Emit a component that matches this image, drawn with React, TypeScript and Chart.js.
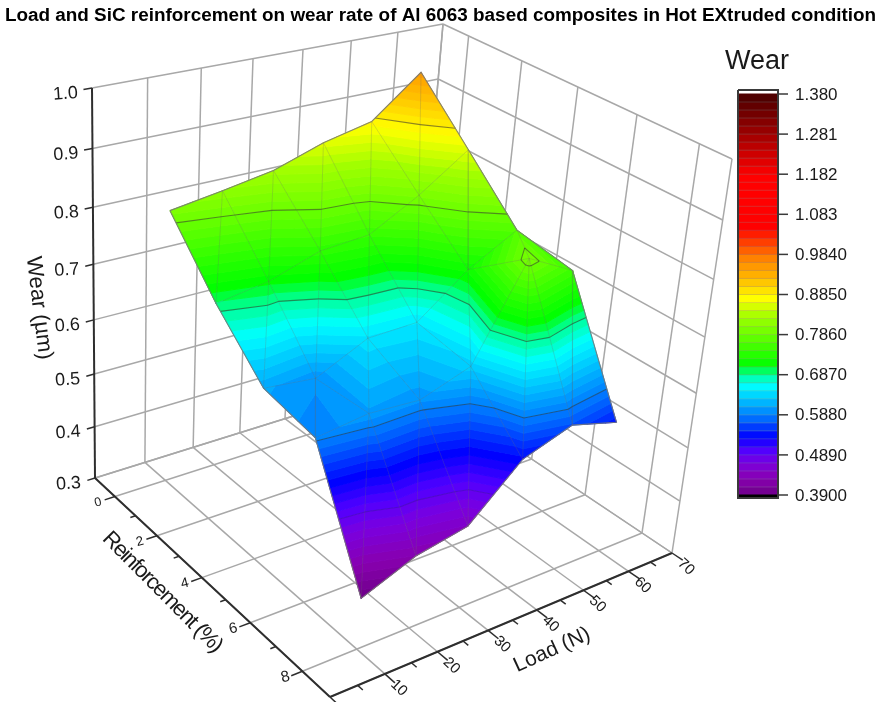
import React, { useEffect, useRef } from "react";
import { Chart, registerables } from "chart.js";

Chart.register(...registerables);

const chartTitle = "Load and SiC reinforcement on wear rate of Al 6063 based composites in Hot EXtruded condition";
const loads = [10, 20, 30, 40, 50, 60];
const reinforcements = [0, 2, 4, 6, 8];
const wearR0 = [0.8, 0.814, 0.83, 0.86, 0.88, 0.951];
const wearR2 = [0.695, 0.71, 0.741, 0.748, 0.798, 0.86];
const wearR4 = [0.61, 0.6, 0.645, 0.648, 0.719, 0.768];
const wearR6 = [0.592, 0.605, 0.6, 0.632, 0.796, 0.752];
const wearR8 = [0.39, 0.429, 0.448, 0.535, 0.566, 0.542];
const wearRows = [wearR0, wearR2, wearR4, wearR6, wearR8];

const wearTicks = [0.3, 0.4, 0.5, 0.6, 0.7, 0.8, 0.9, 1.0];
const wearTickLabels = ["0.3", "0.4", "0.5", "0.6", "0.7", "0.8", "0.9", "1.0"];
const loadTicks = [0, 10, 20, 30, 40, 50, 60, 70];
const loadMinor = [5, 15, 25, 35, 45, 55, 65];
const reinfTicks = [0, 2, 4, 6, 8];
const reinfMinor = [1, 3, 5, 7];
const legendTicks = [0.39, 0.489, 0.588, 0.687, 0.786, 0.885, 0.984, 1.083, 1.182, 1.281, 1.38];
const legendLabels = ["0.3900", "0.4890", "0.5880", "0.6870", "0.7860", "0.8850", "0.9840", "1.083", "1.182", "1.281", "1.380"];
const contourLevels = [0.489, 0.588, 0.687, 0.786, 0.885];
const colorStops: [number, number[]][] = [
  [0.39, [110, 0, 136]], [0.43, [136, 0, 176]], [0.47, [122, 0, 224]], [0.5, [80, 0, 255]],
  [0.533, [0, 0, 255]], [0.58, [0, 112, 255]], [0.62, [0, 184, 255]], [0.66, [0, 255, 255]],
  [0.69, [0, 255, 144]], [0.71, [0, 255, 0]], [0.79, [112, 255, 0]], [0.83, [160, 255, 0]],
  [0.875, [255, 255, 0]], [0.92, [255, 192, 0]], [0.976, [255, 128, 0]], [1.05, [255, 0, 0]],
  [1.18, [255, 0, 0]], [1.28, [160, 0, 0]], [1.37, [80, 0, 0]],
];

const LOAD_MIN = 0, LOAD_MAX = 70, REINF_MIN = -1, REINF_MAX = 9, WEAR_MIN = 0.3, WEAR_MAX = 1.0;
const BAND = 0.0198, BAND_START = 0.39, BAND_COUNT = 50;
const SURFACE_BAND = 0.0099, SURFACE_BAND_COUNT = 62;
const W = 881, H = 702, TOP = 26.68;
const FONT = '"Liberation Sans", Arial, sans-serif';

// camera: projective map of the plot box (floor and roof quads, in scene units)
type Pt = { x: number; y: number };
function squareToQuad(q: number[][]) {
  const [[x0, y0], [x1, y1], [x2, y2], [x3, y3]] = q;
  const dx1 = x1 - x2, dx2 = x3 - x2, sx = x0 - x1 + x2 - x3;
  const dy1 = y1 - y2, dy2 = y3 - y2, sy = y0 - y1 + y2 - y3;
  const den = dx1 * dy2 - dx2 * dy1;
  const g = (sx * dy2 - dx2 * sy) / den, h = (dx1 * sy - sx * dy1) / den;
  return { a: x1 - x0 + g * x1, b: x3 - x0 + h * x3, c: x0, d: y1 - y0 + g * y1, e: y3 - y0 + h * y3, f: y0, g, h };
}
const floorH = squareToQuad([[95, 478], [412, 379], [672, 553], [330, 697]]);
const roofH = squareToQuad([[92, 88], [443, 24], [732, 159], [367, 254]]);
const VERT_PERSP = 1.1;
function applyH(m: any, u: number, v: number) {
  const k = m.g * u + m.h * v + 1;
  return [(m.a * u + m.b * v + m.c) / k, (m.d * u + m.e * v + m.f) / k];
}
function project(load: number, reinf: number, wear: number): Pt {
  const u = (load - LOAD_MIN) / (LOAD_MAX - LOAD_MIN);
  const v = (reinf - REINF_MIN) / (REINF_MAX - REINF_MIN);
  const w = (wear - WEAR_MIN) / (WEAR_MAX - WEAR_MIN);
  const t = w / (w + (1 - w) * VERT_PERSP);
  const f = applyH(floorH, u, v), r = applyH(roofH, u, v);
  return { x: f[0] + (r[0] - f[0]) * t, y: f[1] + (r[1] - f[1]) * t };
}

function colorFor(val: number) {
  if (val <= colorStops[0][0]) return `rgb(${colorStops[0][1].join(",")})`;
  for (let i = 1; i < colorStops.length; i++) {
    if (val <= colorStops[i][0]) {
      const [a, ca] = colorStops[i - 1], [b, cb] = colorStops[i];
      const t = (val - a) / (b - a);
      return `rgb(${ca.map((c, k) => Math.round(c + (cb[k] - c) * t)).join(",")})`;
    }
  }
  return `rgb(${colorStops[colorStops.length - 1][1].join(",")})`;
}

type V3 = [number, number, number];
function clipAbove(poly: V3[], level: number, keepAbove: boolean): V3[] {
  const out: V3[] = [];
  const inside = (p: V3) => (keepAbove ? p[2] >= level : p[2] <= level);
  for (let i = 0; i < poly.length; i++) {
    const a = poly[i], b = poly[(i + 1) % poly.length];
    if (inside(a)) out.push(a);
    if (inside(a) !== inside(b)) {
      const t = (level - a[2]) / (b[2] - a[2]);
      out.push([a[0] + (b[0] - a[0]) * t, a[1] + (b[1] - a[1]) * t, level]);
    }
  }
  return out;
}

const toScene = (p: V3) => project(p[0], p[1], p[2]);

function buildDatasets() {
  const ds: any[] = []; // in paint order; reversed at the end
  const line = (data: Pt[], color: string, width: number) =>
    ds.push({ data, showLine: true, fill: false, borderColor: color, borderWidth: width, pointRadius: 0, clip: false, tension: 0 });
  const poly = (data: Pt[], color: string) =>
    ds.push({ data: [...data, data[0]], showLine: true, fill: "shape", backgroundColor: color, borderColor: color, borderWidth: 1, pointRadius: 0, clip: false, tension: 0 });

  const GRID = "#a8a8a8";
  const gridW = 1.5;
  const wallLoads = [10, 20, 30, 40, 50, 60, 70];
  const wallReinfs = [REINF_MIN, 0, 2, 4, 6, 8, REINF_MAX];
  // floor
  for (const l of loadTicks) line([project(l, REINF_MIN, WEAR_MIN), project(l, REINF_MAX, WEAR_MIN)], GRID, gridW);
  for (const r of wallReinfs) line([project(LOAD_MIN, r, WEAR_MIN), project(LOAD_MAX, r, WEAR_MIN)], GRID, gridW);
  // back walls
  for (const l of wallLoads) line([project(l, REINF_MIN, WEAR_MIN), project(l, REINF_MIN, WEAR_MAX)], GRID, gridW);
  for (const r of wallReinfs) line([project(LOAD_MAX, r, WEAR_MIN), project(LOAD_MAX, r, WEAR_MAX)], GRID, gridW);
  for (const w of wearTicks) {
    line([project(LOAD_MIN, REINF_MIN, w), project(LOAD_MAX, REINF_MIN, w)], GRID, gridW);
    line([project(LOAD_MAX, REINF_MIN, w), project(LOAD_MAX, REINF_MAX, w)], GRID, gridW);
  }

  // axes
  const AXIS = "#2e2e2e";
  line([project(LOAD_MIN, REINF_MIN, WEAR_MIN), project(LOAD_MIN, REINF_MIN, WEAR_MAX)], AXIS, 2);
  line([project(LOAD_MIN, REINF_MIN, WEAR_MIN), project(LOAD_MIN, REINF_MAX, WEAR_MIN)], AXIS, 2);
  line([project(LOAD_MIN, REINF_MAX, WEAR_MIN), project(LOAD_MAX, REINF_MAX, WEAR_MIN)], AXIS, 2);
  for (const w of wearTicks) line([project(LOAD_MIN, REINF_MIN, w), project(LOAD_MIN - 1.5, REINF_MIN, w)], AXIS, 1.5);
  for (const r of reinfTicks) line([project(LOAD_MIN, r, WEAR_MIN), project(LOAD_MIN - 2, r, WEAR_MIN)], AXIS, 1.5);
  for (const r of reinfMinor) line([project(LOAD_MIN, r, WEAR_MIN), project(LOAD_MIN - 1, r, WEAR_MIN)], AXIS, 1.5);
  for (const l of loadTicks) line([project(l, REINF_MAX, WEAR_MIN), project(l, REINF_MAX + 0.35, WEAR_MIN)], AXIS, 1.5);
  for (const l of loadMinor) line([project(l, REINF_MAX, WEAR_MIN), project(l, REINF_MAX + 0.18, WEAR_MIN)], AXIS, 1.5);

  // surface triangles, far to near
  const tris: V3[][] = [];
  for (let i = 0; i < reinforcements.length - 1; i++) {
    for (let j = loads.length - 2; j >= 0; j--) {
      const a: V3 = [loads[j], reinforcements[i], wearRows[i][j]];
      const b: V3 = [loads[j + 1], reinforcements[i], wearRows[i][j + 1]];
      const c: V3 = [loads[j], reinforcements[i + 1], wearRows[i + 1][j]];
      const d: V3 = [loads[j + 1], reinforcements[i + 1], wearRows[i + 1][j + 1]];
      tris.push([a, b, c], [b, d, c]);
    }
  }
  for (const t of tris) {
    for (let k = 0; k < SURFACE_BAND_COUNT; k++) {
      const lo = BAND_START + k * SURFACE_BAND, hi = lo + SURFACE_BAND;
      let p = clipAbove(t, lo - (k === 0 ? 1 : 0), true);
      if (p.length) p = clipAbove(p, hi, false);
      if (p.length >= 3) poly(p.map(toScene), colorFor(lo + SURFACE_BAND / 2));
    }
  }
  // mesh
  for (const t of tris) line([t[0], t[1], t[2], t[0]].map(toScene), "rgba(110,110,110,0.12)", 1);
  // contours
  for (const t of tris) {
    for (const lev of contourLevels) {
      const pts: V3[] = [];
      for (let i = 0; i < 3; i++) {
        const a = t[i], b = t[(i + 1) % 3];
        if ((a[2] < lev) !== (b[2] < lev)) {
          const f = (lev - a[2]) / (b[2] - a[2]);
          pts.push([a[0] + (b[0] - a[0]) * f, a[1] + (b[1] - a[1]) * f, lev]);
        }
      }
      if (pts.length === 2) line(pts.map(toScene), lev === 0.489 ? "rgba(60,30,90,0.28)" : "rgba(50,50,50,0.55)", 1.1);
    }
  }
  // outline
  const edge: V3[] = [];
  loads.forEach((l, j) => edge.push([l, reinforcements[0], wearRows[0][j]]));
  reinforcements.forEach((r, i) => edge.push([loads[loads.length - 1], r, wearRows[i][loads.length - 1]]));
  [...loads].reverse().forEach((l, j) => edge.push([l, reinforcements[4], wearRows[4][loads.length - 1 - j]]));
  [...reinforcements].reverse().forEach((r, i) => edge.push([loads[0], r, wearRows[4 - i][0]]));
  line(edge.map(toScene), "rgba(120,120,120,0.85)", 1.1);

  // colour legend
  const LX0 = 738, LX1 = 778, LY_MIN = 495, LY_MAX = 94;
  const legY = (v: number) => LY_MIN + ((v - 0.39) / (1.38 - 0.39)) * (LY_MAX - LY_MIN);
  for (let k = 0; k < BAND_COUNT; k++) {
    const lo = BAND_START + k * BAND, hi = lo + BAND;
    poly([{ x: LX0, y: legY(lo) }, { x: LX1, y: legY(lo) }, { x: LX1, y: legY(hi) }, { x: LX0, y: legY(hi) }], colorFor(lo + BAND / 2));
  }
  for (let k = 1; k < BAND_COUNT; k++) {
    const y = legY(BAND_START + k * BAND);
    line([{ x: LX0, y }, { x: LX1, y }], "rgba(140,140,140,0.3)", 1);
  }
  poly([{ x: LX0, y: LY_MIN }, { x: LX1, y: LY_MIN }, { x: LX1, y: 498 }, { x: LX0, y: 498 }], "#000000");
  line([{ x: LX0, y: 90 }, { x: LX1, y: 90 }, { x: LX1, y: 498 }, { x: LX0, y: 498 }, { x: LX0, y: 90 }], "#3a3a3a", 2);
  for (const v of legendTicks) line([{ x: LX1, y: legY(v) }, { x: LX1 + 10, y: legY(v) }], "#3a3a3a", 1.5);

  return ds.reverse();
}

const textPlugin = {
  id: "sceneText",
  afterDraw(chart: any) {
    const { ctx, scales } = chart;
    const put = (s: string, p: Pt, font: string, angle = 0, align: CanvasTextAlign = "center", spacing = "0px") => {
      ctx.save();
      ctx.translate(scales.x.getPixelForValue(p.x), scales.y.getPixelForValue(p.y));
      ctx.rotate(angle);
      ctx.font = font;
      ctx.fillStyle = "#1a1a1a";
      ctx.textAlign = align;
      ctx.textBaseline = "middle";
      (ctx as any).letterSpacing = spacing;
      ctx.fillText(s, 0, 0);
      ctx.restore();
    };
    wearTicks.forEach((w, i) => {
      const p = project(LOAD_MIN, REINF_MIN, w);
      put(wearTickLabels[i], { x: p.x - 14, y: p.y + 5 }, `18px ${FONT}`, -0.07, "right");
    });
    reinfTicks.forEach((r, i) => {
      const p = project(LOAD_MIN, r, WEAR_MIN);
      put(String(r), { x: p.x - 17, y: p.y + 6 }, `${12.5 + i * 0.8}px ${FONT}`, -0.25);
    });
    loadTicks.forEach((l) => {
      const p = project(l, REINF_MAX, WEAR_MIN);
      put(String(l), { x: p.x + 14, y: p.y + 14 }, `15px ${FONT}`, 0.75);
    });
    put("Wear (\u00b5m)", { x: 39, y: 308 }, `22px ${FONT}`, 1.45);
    put("Reinforcement (%)", { x: 162, y: 592 }, `22px ${FONT}`, 0.79, "center", "-1.4px");
    put("Load (N)", { x: 552, y: 650 }, `21px ${FONT}`, -0.43);
    put("Wear", { x: 725, y: 62 }, `27px ${FONT}`, 0, "left");
    const legY = (v: number) => 495 + ((v - 0.39) / (1.38 - 0.39)) * (94 - 495);
    legendTicks.forEach((v, i) => put(legendLabels[i], { x: 795, y: legY(v) + 1 }, `17px ${FONT}`, 0, "left"));
  },
};

export default function App() {
  const ref = useRef<HTMLCanvasElement>(null);
  useEffect(() => {
    const chart = new Chart(ref.current as HTMLCanvasElement, {
      type: "scatter",
      data: { datasets: buildDatasets() },
      options: {
        animation: false,
        responsive: false,
        events: [],
        layout: { padding: 0 },
        scales: {
          x: { type: "linear", min: 0, max: W, display: false },
          y: { type: "linear", min: TOP, max: H, reverse: true, display: false },
        },
        plugins: {
          legend: { display: false },
          tooltip: { enabled: false },
          title: {
            display: true,
            text: chartTitle,
            color: "#000000",
            font: { family: FONT, size: 18.9, weight: "bold", lineHeight: 1.2 },
            padding: { top: 4, bottom: 0 },
          },
        },
      },
      plugins: [textPlugin],
    } as any);
    return () => chart.destroy();
  }, []);
  return (
    <div style={{ position: "absolute", left: 0, top: 0, width: W, height: H, background: "#fff" }}>
      <canvas ref={ref} width={W} height={H} style={{ display: "block" }} />
    </div>
  );
}
